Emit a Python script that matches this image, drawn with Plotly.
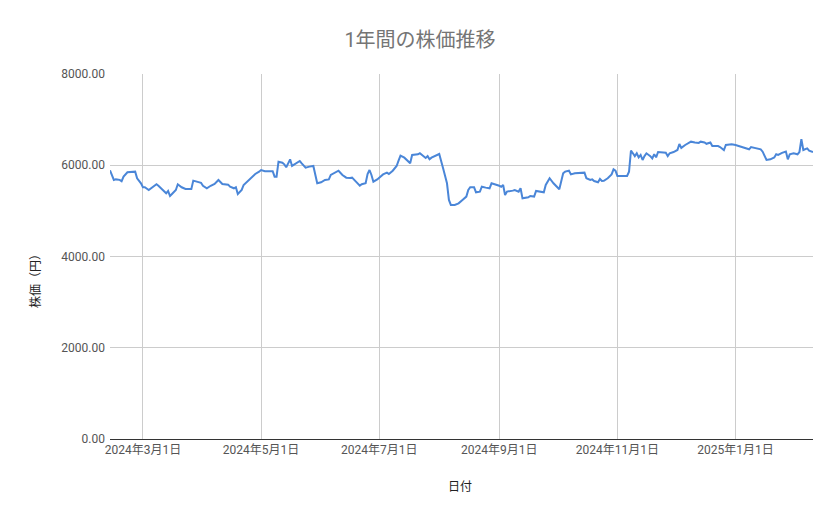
import plotly.graph_objects as go

dates = [
    "2024-02-13", "2024-02-15", "2024-02-16", "2024-02-18", "2024-02-19", "2024-02-20", "2024-02-22", "2024-02-24",
    "2024-02-26", "2024-02-27", "2024-02-29", "2024-03-01", "2024-03-02", "2024-03-04", "2024-03-06", "2024-03-08",
    "2024-03-09", "2024-03-11", "2024-03-12", "2024-03-13", "2024-03-14", "2024-03-15", "2024-03-16", "2024-03-18",
    "2024-03-19", "2024-03-21", "2024-03-23", "2024-03-26", "2024-03-27", "2024-03-29", "2024-03-31", "2024-04-01",
    "2024-04-03", "2024-04-05", "2024-04-07", "2024-04-09", "2024-04-11", "2024-04-14", "2024-04-15", "2024-04-17",
    "2024-04-18", "2024-04-19", "2024-04-21", "2024-04-22", "2024-04-24", "2024-04-25", "2024-04-27", "2024-04-28",
    "2024-04-30", "2024-05-01", "2024-05-03", "2024-05-07", "2024-05-08", "2024-05-09", "2024-05-10", "2024-05-12",
    "2024-05-13", "2024-05-14", "2024-05-15", "2024-05-16", "2024-05-17", "2024-05-19", "2024-05-21", "2024-05-22",
    "2024-05-24", "2024-05-26", "2024-05-28", "2024-05-30", "2024-06-01", "2024-06-03", "2024-06-05", "2024-06-06",
    "2024-06-09", "2024-06-10", "2024-06-12", "2024-06-14", "2024-06-16", "2024-06-17", "2024-06-19", "2024-06-21",
    "2024-06-22", "2024-06-24", "2024-06-25", "2024-06-26", "2024-06-27", "2024-06-28", "2024-06-30", "2024-07-02",
    "2024-07-03", "2024-07-05", "2024-07-06", "2024-07-08", "2024-07-10", "2024-07-11", "2024-07-12", "2024-07-14",
    "2024-07-16", "2024-07-17", "2024-07-18", "2024-07-21", "2024-07-22", "2024-07-24", "2024-07-25", "2024-07-26",
    "2024-07-27", "2024-07-28", "2024-07-30", "2024-08-01", "2024-08-03", "2024-08-04", "2024-08-05", "2024-08-06",
    "2024-08-07", "2024-08-09", "2024-08-11", "2024-08-13", "2024-08-15", "2024-08-16", "2024-08-17", "2024-08-19",
    "2024-08-20", "2024-08-22", "2024-08-23", "2024-08-25", "2024-08-27", "2024-08-28", "2024-08-30", "2024-09-01",
    "2024-09-02", "2024-09-03", "2024-09-04", "2024-09-05", "2024-09-08", "2024-09-09", "2024-09-11", "2024-09-12",
    "2024-09-13", "2024-09-16", "2024-09-17", "2024-09-19", "2024-09-20", "2024-09-22", "2024-09-24", "2024-09-25",
    "2024-09-27", "2024-09-29", "2024-10-01", "2024-10-02", "2024-10-04", "2024-10-05", "2024-10-07", "2024-10-08",
    "2024-10-10", "2024-10-13", "2024-10-15", "2024-10-16", "2024-10-18", "2024-10-19", "2024-10-20", "2024-10-22",
    "2024-10-23", "2024-10-24", "2024-10-25", "2024-10-27", "2024-10-29", "2024-10-30", "2024-10-31", "2024-11-01",
    "2024-11-04", "2024-11-06", "2024-11-07", "2024-11-08", "2024-11-09", "2024-11-10", "2024-11-11", "2024-11-12",
    "2024-11-13", "2024-11-14", "2024-11-15", "2024-11-16", "2024-11-18", "2024-11-19", "2024-11-20", "2024-11-21",
    "2024-11-22", "2024-11-24", "2024-11-26", "2024-11-27", "2024-11-28", "2024-11-30", "2024-12-02", "2024-12-03",
    "2024-12-04", "2024-12-06", "2024-12-09", "2024-12-11", "2024-12-13", "2024-12-14", "2024-12-16", "2024-12-17",
    "2024-12-19", "2024-12-20", "2024-12-23", "2024-12-24", "2024-12-26", "2024-12-27", "2024-12-30", "2025-01-01",
    "2025-01-04", "2025-01-06", "2025-01-08", "2025-01-09", "2025-01-11", "2025-01-14", "2025-01-15", "2025-01-17",
    "2025-01-19", "2025-01-21", "2025-01-22", "2025-01-23", "2025-01-25", "2025-01-27", "2025-01-28", "2025-01-29",
    "2025-01-31", "2025-02-02", "2025-02-03", "2025-02-04", "2025-02-05", "2025-02-07", "2025-02-08", "2025-02-10",
]

prices = [
    5890, 5677, 5690, 5680, 5650, 5750, 5845, 5860,
    5860, 5715, 5605, 5517, 5517, 5458, 5530, 5583,
    5550, 5473, 5420, 5385, 5435, 5326, 5370, 5458,
    5583, 5517, 5480, 5480, 5663, 5640, 5615, 5550,
    5495, 5550, 5590, 5677, 5590, 5575, 5530, 5495,
    5517, 5370, 5458, 5568, 5655, 5690, 5772, 5808,
    5860, 5896, 5870, 5870, 5750, 5750, 6078, 6056,
    6020, 5955, 6042, 6130, 5985, 6042, 6093, 6042,
    5948, 5970, 5985, 5605, 5627, 5677, 5690, 5787,
    5845, 5880, 5787, 5728, 5720, 5728, 5640, 5553,
    5583, 5605, 5808, 5896, 5787, 5640, 5690, 5750,
    5800, 5838, 5808, 5880, 5984, 6100, 6210, 6166,
    6093, 6042, 6225, 6240, 6262, 6200, 6160, 6200,
    6130, 6166, 6200, 6247, 5933, 5750, 5605, 5240,
    5130, 5130, 5165, 5240, 5313, 5458, 5517, 5517,
    5407, 5422, 5530, 5510, 5495, 5605, 5583, 5550,
    5530, 5568, 5348, 5422, 5444, 5458, 5422, 5495,
    5275, 5298, 5327, 5313, 5436, 5422, 5407, 5568,
    5715, 5605, 5517, 5473, 5823, 5860, 5880, 5800,
    5823, 5823, 5838, 5715, 5677, 5690, 5655, 5626,
    5700, 5655, 5660, 5715, 5800, 5911, 5880, 5765,
    5765, 5765, 5860, 6320, 6262, 6200, 6262, 6174,
    6225, 6115, 6200, 6262, 6200, 6150, 6240, 6174,
    6290, 6290, 6275, 6200, 6262, 6290, 6334, 6466,
    6380, 6444, 6517, 6500, 6490, 6517, 6500, 6470,
    6500, 6420, 6420, 6400, 6334, 6444, 6460, 6444,
    6400, 6370, 6350, 6400, 6380, 6350, 6297, 6115,
    6130, 6170, 6240, 6225, 6270, 6300, 6130, 6240,
    6262, 6240, 6290, 6570, 6334, 6370, 6320, 6290,
]

x_tick_vals = ["2024-03-01", "2024-05-01", "2024-07-01", "2024-09-01", "2024-11-01", "2025-01-01"]
x_tick_text = ["2024年3月1日", "2024年5月1日", "2024年7月1日", "2024年9月1日", "2024年11月1日", "2025年1月1日"]
y_tick_vals = [0, 2000, 4000, 6000, 8000]
y_tick_text = ["0.00", "2000.00", "4000.00", "6000.00", "8000.00"]

FONT = "Roboto, 'Noto Sans CJK JP', sans-serif"

fig = go.Figure()
fig.add_trace(go.Scatter(
    x=dates, y=prices, mode="lines",
    line=dict(color="#4a86d8", width=2),
    showlegend=False,
))

fig.update_layout(
    width=839, height=519,
    margin=dict(l=110, r=26, t=74, b=80),
    paper_bgcolor="white", plot_bgcolor="white",
    font=dict(family=FONT, color="#444444", size=12),
    title=dict(text="1年間の株価推移", x=420 / 839, xanchor="center", y=1 - 40 / 519, yanchor="middle",
               font=dict(family=FONT, size=20, color="#757575")),
    xaxis=dict(
        range=[dates[0], dates[-1]],
        tickvals=x_tick_vals, ticktext=x_tick_text,
        showgrid=True, gridcolor="#cccccc", gridwidth=1,
        showline=True, linecolor="#333333", linewidth=1,
        ticks="", tickfont=dict(size=12, color="#555555"),
        zeroline=False,
    ),
    yaxis=dict(
        range=[0, 8000],
        tickvals=y_tick_vals, ticktext=y_tick_text,
        showgrid=True, gridcolor="#cccccc", gridwidth=1,
        showline=False, zeroline=False,
        ticks="", tickfont=dict(size=12, color="#555555"),
        ticklabelstandoff=4,
    ),
    annotations=[
        dict(text="日付", xref="paper", yref="paper", x=(460 - 110) / 703, y=-(487 - 439) / 365,
             xanchor="center", yanchor="middle", showarrow=False,
             font=dict(family=FONT, size=12, color="#222222")),
        dict(text="株価（円）", xref="paper", yref="paper", x=-(110 - 35) / 703, y=(439 - 278) / 365,
             xanchor="center", yanchor="middle", showarrow=False, textangle=-90,
             font=dict(family=FONT, size=12, color="#222222")),
    ],
)

fig.write_html("out.html", config={"displayModeBar": False},
               post_script="document.body.style.margin='0';")
